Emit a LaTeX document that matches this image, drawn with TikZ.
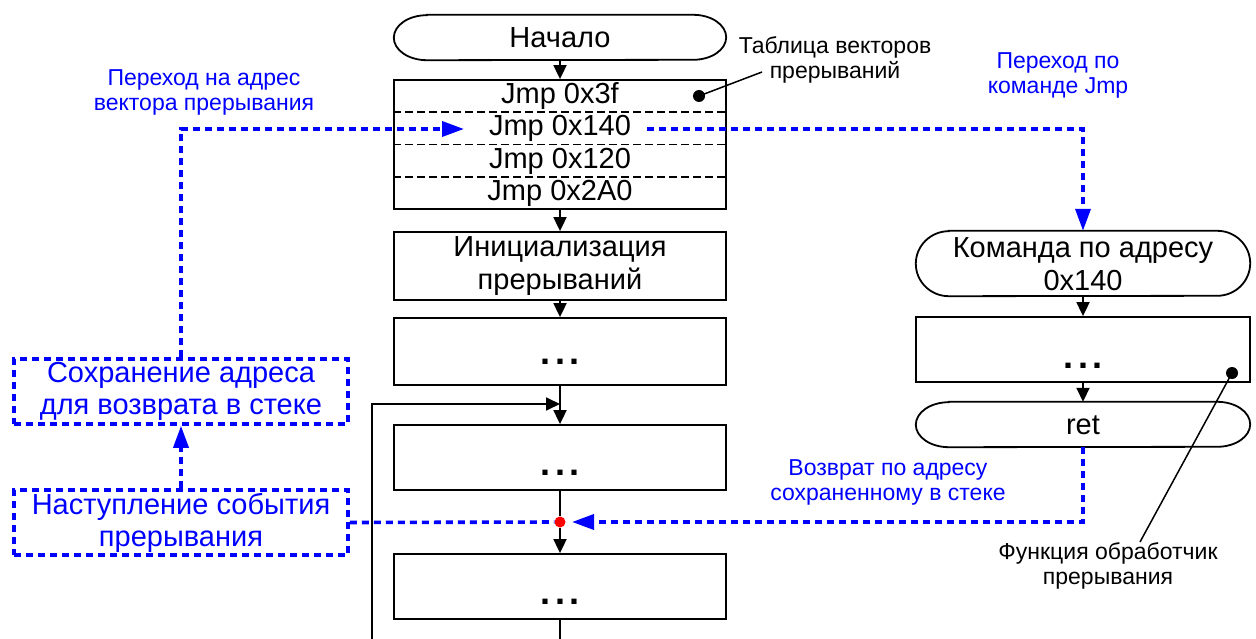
\documentclass[tikz,border=0pt]{standalone}
\usepackage{fontspec}
\setmainfont{Liberation Sans}
\usetikzlibrary{arrows.meta}
\begin{document}
\begin{tikzpicture}[x=1pt,y=-1pt,
  box/.style={draw, line width=1.8pt, minimum width=332pt, inner sep=0pt},
  frame/.style={draw=none, minimum width=332pt, inner sep=0pt},
  outline/.style={line width=1.8pt},
  bigtext/.style={font=\fontsize{29}{33}\selectfont, align=center, inner sep=0pt},
  smalltext/.style={font=\fontsize{23}{25}\selectfont, align=center, inner sep=0pt},
  dots/.style={font=\fontsize{36}{36}\selectfont\bfseries, inner sep=0pt},
  flow/.style={line width=1.8pt, -{Triangle[length=14pt,width=13pt]}},
  plain/.style={line width=1.8pt},
  jump/.style={blue, line width=3.6pt, dash pattern=on 7pt off 5pt},
  jumparrow/.style={jump, -{Triangle[length=22pt,width=15pt]}},
  sep/.style={line width=1.2pt, dash pattern=on 8pt off 4pt},
  pin/.style={circle, fill, minimum size=12pt, inner sep=0pt},
  leader/.style={line width=1.5pt},
  bluebox/.style={draw=blue, text=blue, line width=3.6pt, dash pattern=on 7pt off 5pt,
    minimum width=334pt, minimum height=65pt, inner sep=0pt, align=center,
    font=\fontsize{29}{32}\selectfont},
]
\path[use as bounding box] (0,0) rectangle (1256,639);

% ---- main program column ----
\node[frame, minimum height=45pt] (start) at (560,37.5) {};
\node[bigtext] at (560,38) {Начало};

\node[box, minimum height=129pt] (table) at (560,144.5) {};
\foreach \yy in {112,144.5,177}
  \draw[sep] (table.west |- 0,\yy) -- (table.east |- 0,\yy);
\node[bigtext] (j1) at (560,96) {Jmp 0x3f};
\node[bigtext] (j2) at (560,128) {Jmp 0x140};
\node[bigtext] (j3) at (560,161) {Jmp 0x120};
\node[bigtext] (j4) at (560,193) {Jmp 0x2A0};

\node[box, minimum height=68pt, bigtext, draw, line width=1.8pt, minimum width=332pt] (init) at (560,266) {Инициализация\\прерываний};

\node[box, minimum height=67pt] (b1) at (560,351.5) {};
\node[dots] at (560,362) {.\kern4.5pt.\kern4.5pt.};
\node[box, minimum height=65pt] (b2) at (560,457.5) {};
\node[dots] at (560,473) {.\kern4.5pt.\kern4.5pt.};
\node[box, minimum height=65pt] (b3) at (560,586.5) {};
\node[dots] at (560,602) {.\kern4.5pt.\kern4.5pt.};

\node[circle, fill=red, inner sep=0pt, minimum size=11pt] (hit) at (560,522) {};

\draw[flow] (start.south) -- (table.north);
\draw[flow] (table.south) -- (init.north);
\draw[flow] (init.south) -- (b1.north);
\draw[flow] (b1.south) -- (b2.north);
\draw[plain] (b2.south) -- (hit);
\draw[flow] (hit) -- (b3.north);
\coordinate (bout) at (560,639);
\draw[plain] (b3.south) -- (bout);

% loop back into the main cycle
\coordinate (loopin) at (372,639);
\coordinate (join) at (560,404);
\draw[flow] (loopin) |- (join);

% ---- interrupt handler column ----
\node[frame, minimum width=334pt, minimum height=65pt] (cmd) at (1083,263.5) {};
\node[bigtext] at (1083,264) {Команда по адресу\\0x140};
\node[box, minimum width=334pt, minimum height=65pt] (rb) at (1083,349.5) {};
\node[dots] at (1083,366) {.\kern4.5pt.\kern4.5pt.};
\node[frame, minimum width=334pt, minimum height=45pt] (ret) at (1083,424.5) {};
\node[bigtext] at (1083,425) {ret};
\draw[flow] (cmd.south) -- (rb.north);
\draw[flow] (rb.south) -- (ret.north);

% terminator outlines with elliptical ends
\foreach \n/\ry in {start/22.5, cmd/32.5, ret/22.5}
  \draw[outline] ([xshift=33pt]\n.north west) -- ([xshift=-33pt]\n.north east)
    arc[start angle=90, end angle=-90, x radius=33pt, y radius=\ry pt]
    -- ([xshift=33pt]\n.south west)
    arc[start angle=270, end angle=90, x radius=33pt, y radius=\ry pt] -- cycle;

% ---- callouts ----
\node[pin] (tdot) at (699,96) {};
\coordinate (tabend) at (762,72);
\draw[leader] (tdot.center) -- (tabend);
\node[smalltext] (tablbl) at (835,60) {Таблица векторов\\прерываний};

\node[pin] (fdot) at (1232,373) {};
\coordinate (funend) at (1140,542);
\draw[leader] (fdot.center) -- (funend);
\node[smalltext] (funlbl) at (1108,566) {Функция обработчик\\прерывания};

% ---- interrupt event path ----
\node[bluebox] (save) at (181,391.5) {Сохранение адреса\\для возврата в стеке};
\node[bluebox] (event) at (181,522.5) {Наступление события\\прерывания};

\draw[jumparrow] (event.north) -- (save.south);
\coordinate (vecin) at (464,129);
\draw[jumparrow] (save.north) |- (vecin);
\draw[jump] (event.east) -- (hit);
\coordinate (jout) at (647,129);
\draw[jumparrow] (jout) -| (cmd.north);
\coordinate (retin) at (572,522);
\draw[jumparrow] (ret.south) |- (retin);

\node[smalltext, text=blue] (lbl1) at (204,92) {Переход на адрес\\вектора прерывания};
\node[smalltext, text=blue] (lbl2) at (1058,75) {Переход по\\команде Jmp};
\node[smalltext, text=blue] (lbl3) at (888,482) {Возврат по адресу\\сохраненному в стеке};
\end{tikzpicture}
\end{document}
